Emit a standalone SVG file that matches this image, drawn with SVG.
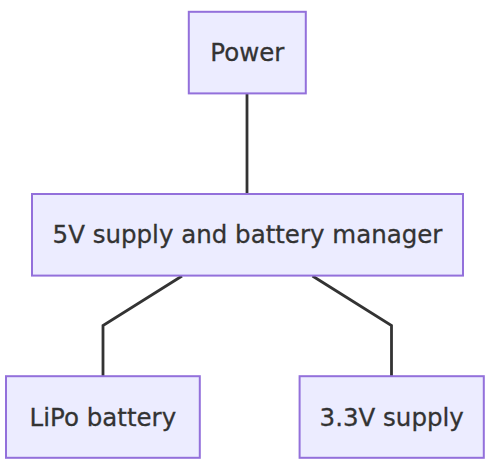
<svg xmlns="http://www.w3.org/2000/svg" width="494" height="464" viewBox="0 0 494 464">
<style>
.node rect{fill:#ECECFF;stroke:#9370DB;stroke-width:2}
.node text{font-family:"DejaVu Sans",sans-serif;font-size:24.5px;fill:#333;stroke:#333;stroke-width:0.3;text-anchor:middle;dominant-baseline:central}
.edge{fill:none;stroke:#333;stroke-width:2.8}
</style>
<rect width="494" height="464" fill="#fff"/>
<g id="connectors">
<path class="edge" d="M247,93.5V194"/>
<path class="edge" d="M182,276L103,325.5V376"/>
<path class="edge" d="M312.5,276L391.5,325.5V376"/>
</g>
<g id="power" class="node"><rect x="188.8" y="11.8" width="117" height="81.6"/><text x="247.3" y="52.6">Power</text></g>
<g id="manager" class="node"><rect x="32" y="194" width="431" height="81.6"/><text x="247.5" y="234.8">5V supply and battery manager</text></g>
<g id="lipo" class="node"><rect x="6" y="376.2" width="193.8" height="81.6"/><text x="102.9" y="417">LiPo battery</text></g>
<g id="supply33" class="node"><rect x="299.6" y="376.2" width="184.2" height="81.6"/><text x="391.7" y="417">3.3V supply</text></g>
</svg>
